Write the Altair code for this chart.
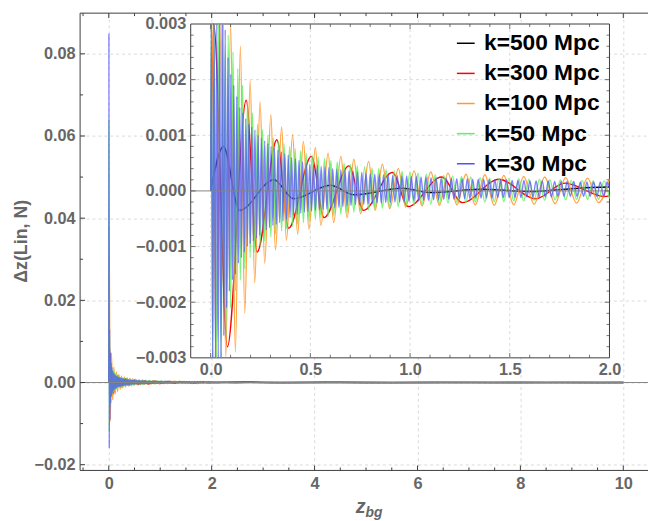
import altair as alt
import pandas as pd

# ---------------- data ----------------
series_names = ["k=500 Mpc", "k=300 Mpc", "k=100 Mpc", "k=50 Mpc", "k=30 Mpc"]
series_colors = ["#000000", "#ff0000", "#ff9a2e", "#5ef05e", "#5050ff"]

black = [(0.0, 0.0), (0.064, 0.0008), (0.144, -0.00035), (0.317, 0.0002), (0.416, -0.00014),
         (0.60, 0.0001), (0.72, -0.00007), (0.96, 0.00005), (1.10, -0.00003), (1.35, 0.00003),
         (1.60, -0.00001), (1.85, 0.00005), (2.0, 0.00007), (3.0, 0.00003), (5.0, -0.00002),
         (7.0, 0.00001), (10.0, 0.0)]

red = [(0.0, 0.0), (0.015, 0.008), (0.084, -0.0028), (0.178, 0.00163), (0.233, -0.0011),
       (0.332, 0.00092), (0.391, -0.00067), (0.505, 0.00062), (0.569, -0.00048), (0.693, 0.00045),
       (0.767, -0.00035), (0.911, 0.00033), (0.990, -0.00028), (1.158, 0.00025), (1.262, -0.00021),
       (1.446, 0.00021), (1.629, -0.00014), (1.777, 0.00014), (1.975, -0.0001), (2.0, -0.00009),
       (2.5, 0.00008), (3.2, -0.00006), (4.2, 0.00005), (5.5, -0.00004), (7.0, 0.00003),
       (8.5, -0.00002), (10.0, 0.0)]

orange = [(0.0, 0.0), (0.006, 0.038), (0.028, -0.0094), (0.052, 0.0072), (0.076, -0.0042),
          (0.100, 0.0037), (0.124, -0.0029), (0.149, 0.0026), (0.171, -0.0022), (0.198, 0.00198),
          (0.221, -0.00165), (0.248, 0.0016), (0.271, -0.0013), (0.302, 0.00137), (0.325, -0.00106),
          (0.356, 0.00115), (0.380, -0.00089), (0.411, 0.00101), (0.436, -0.00078), (0.465, 0.00089),
          (0.493, -0.00069), (0.525, 0.00078), (0.553, -0.00062), (0.589, 0.00068), (0.617, -0.00057),
          (0.653, 0.00062), (0.684, -0.00048), (0.718, 0.00057), (0.752, -0.00041), (0.792, 0.00053),
          (0.825, -0.00035), (0.861, 0.00048), (0.898, -0.00032), (0.941, 0.0004), (0.978, -0.00029),
          (1.020, 0.00036), (1.060, -0.00027), (1.104, 0.00034), (1.147, -0.00026), (1.190, 0.00032),
          (1.235, -0.00025), (1.280, 0.0003), (1.327, -0.00025), (1.375, 0.00029), (1.422, -0.00026),
          (1.470, 0.00028), (1.520, -0.00025), (1.570, 0.00026), (1.622, -0.00024), (1.675, 0.00025),
          (1.727, -0.00023), (1.780, 0.00024), (1.835, -0.00022), (1.890, 0.00023), (1.945, -0.00021),
          (2.000, 0.00022), (2.5, -0.00015), (3.0, 0.0001), (4.0, -0.00008), (5.0, 0.00006),
          (6.0, -0.00005), (7.0, 0.00004), (8.0, -0.00003), (9.0, 0.00003), (10.0, 0.0)]

green = [(0.0, 0.0), (0.003, 0.064), (0.011, -0.012), (0.017, 0.011), (0.028, -0.0055), (0.040, 0.0052),
         (0.052, -0.0034), (0.064, 0.0036), (0.076, -0.0026), (0.088, 0.0028), (0.100, -0.0021),
         (0.112, 0.0025), (0.124, -0.0018), (0.136, 0.0022), (0.149, -0.0016), (0.160, 0.0019),
         (0.171, -0.0014), (0.185, 0.0016), (0.198, -0.0012), (0.210, 0.0014), (0.221, -0.0011),
         (0.235, 0.0012), (0.248, -0.001), (0.260, 0.0011), (0.271, -0.0009), (0.287, 0.001),
         (0.302, -0.00083), (0.314, 0.00095), (0.325, -0.00077), (0.341, 0.0009), (0.356, -0.00072),
         (0.368, 0.00085), (0.380, -0.00068), (0.396, 0.0008), (0.411, -0.00064), (0.424, 0.00076),
         (0.436, -0.0006), (0.451, 0.00072), (0.465, -0.00057), (0.479, 0.00068), (0.493, -0.00054),
         (0.509, 0.00064), (0.525, -0.00051), (0.539, 0.00061), (0.553, -0.00048), (0.571, 0.00058),
         (0.589, -0.00046), (0.603, 0.00055), (0.617, -0.00044), (0.635, 0.00052), (0.653, -0.00042),
         (0.669, 0.0005), (0.684, -0.0004), (0.701, 0.00047), (0.718, -0.00038), (0.735, 0.00045),
         (0.752, -0.00036), (0.772, 0.00043), (0.792, -0.00034), (0.809, 0.00041), (0.825, -0.00032),
         (0.843, 0.0004), (0.861, -0.00031), (0.880, 0.00038), (0.898, -0.0003), (0.920, 0.00036),
         (0.941, -0.00028), (0.960, 0.00035), (0.978, -0.00027), (0.999, 0.00033), (1.020, -0.00026),
         (1.040, 0.00032), (1.060, -0.00025), (1.082, 0.0003), (1.104, -0.00024), (1.126, 0.00029),
         (1.147, -0.00023), (1.169, 0.00028), (1.190, -0.00022), (1.213, 0.00027), (1.235, -0.00021),
         (1.258, 0.00026), (1.280, -0.00021), (1.304, 0.00025), (1.327, -0.0002), (1.351, 0.00024),
         (1.375, -0.0002), (1.399, 0.00023), (1.422, -0.00019), (1.446, 0.00023), (1.470, -0.00019),
         (1.495, 0.00022), (1.520, -0.00018), (1.545, 0.00022), (1.570, -0.00018), (1.596, 0.00021),
         (1.622, -0.00017), (1.649, 0.00021), (1.675, -0.00017), (1.701, 0.0002), (1.727, -0.00016),
         (1.754, 0.0002), (1.780, -0.00016), (1.808, 0.00019), (1.835, -0.00015), (1.863, 0.00019),
         (1.890, -0.00015), (1.918, 0.00018), (1.945, -0.00015), (1.973, 0.00018), (2.0, -0.00014),
         (2.3, 0.0001), (2.8, -0.00008), (3.5, 0.00006), (4.5, -0.00005), (5.5, 0.00004),
         (6.5, -0.00003), (7.5, 0.00003), (8.5, -0.00002), (9.5, 0.00002), (10.0, 0.0)]

blue = [(0.0, 0.0),
        (0.003, 0.085), (0.010, -0.016), (0.017, 0.013), (0.024, -0.009), (0.031, 0.0072), (0.038, -0.005),
        (0.045, 0.0048), (0.052, -0.0034), (0.059, 0.0037), (0.066, -0.0026), (0.073, 0.0029), (0.080, -0.0021),
        (0.087, 0.0024), (0.094, -0.0018),
        (0.101, 0.0021), (0.109, -0.0016), (0.116, 0.0019), (0.124, -0.0015), (0.131, 0.0017), (0.139, -0.0013),
        (0.146, 0.0015), (0.154, -0.0012), (0.161, 0.0014), (0.169, -0.0011), (0.176, 0.0013), (0.184, -0.001),
        (0.191, 0.0012), (0.199, -0.00095),
        (0.206, 0.00115), (0.214, -0.0009), (0.222, 0.0011), (0.230, -0.00085), (0.238, 0.001), (0.246, -0.0008),
        (0.254, 0.00095), (0.263, -0.00075), (0.271, 0.0009), (0.279, -0.0007), (0.287, 0.00085), (0.295, -0.00066),
        (0.303, 0.0008), (0.312, -0.00062), (0.320, 0.00077), (0.329, -0.0006), (0.338, 0.00073), (0.346, -0.00057),
        (0.355, 0.0007), (0.363, -0.00054), (0.372, 0.00067), (0.381, -0.00051), (0.389, 0.00064), (0.398, -0.00048),
        (0.406, 0.0006), (0.415, -0.00044), (0.425, 0.00058), (0.434, -0.00042), (0.443, 0.00055), (0.452, -0.0004),
        (0.461, 0.00052), (0.470, -0.00038), (0.479, 0.0005), (0.488, -0.00037), (0.497, 0.00048),
        (0.506, -0.00036), (0.516, 0.00047), (0.525, -0.00035), (0.535, 0.00046), (0.545, -0.00034), (0.554, 0.00044),
        (0.564, -0.00033), (0.573, 0.00043), (0.583, -0.00032), (0.593, 0.00042),
        (0.602, -0.00031), (0.612, 0.0004), (0.623, -0.0003), (0.633, 0.00039), (0.643, -0.00029), (0.653, 0.00038),
        (0.663, -0.00028), (0.674, 0.00037), (0.684, -0.00027), (0.694, 0.00036),
        (0.704, -0.00026), (0.715, 0.00035), (0.726, -0.00025), (0.736, 0.00034), (0.747, -0.00025), (0.758, 0.00033),
        (0.768, -0.00024), (0.779, 0.00032), (0.790, -0.00023),
        (0.800, 0.00031), (0.811, -0.00023), (0.823, 0.0003), (0.834, -0.00022), (0.845, 0.0003), (0.856, -0.00022),
        (0.867, 0.00029), (0.878, -0.00021), (0.890, 0.00029),
        (0.901, -0.00021), (0.913, 0.00028), (0.924, -0.0002), (0.936, 0.00028), (0.948, -0.0002), (0.959, 0.00027),
        (0.971, -0.00019), (0.983, 0.00027), (0.995, -0.00019),
        (1.006, 0.00026), (1.019, -0.00018), (1.031, 0.00026), (1.043, -0.00018), (1.055, 0.00025), (1.068, -0.00017),
        (1.080, 0.00025), (1.092, -0.00017),
        (1.105, 0.00024), (1.118, -0.00016), (1.130, 0.00024), (1.143, -0.00016), (1.156, 0.00023), (1.169, -0.00015),
        (1.182, 0.00023), (1.194, -0.00015),
        (1.207, 0.00023), (1.220, -0.00015), (1.234, 0.00022), (1.247, -0.00014), (1.260, 0.00022), (1.274, -0.00014),
        (1.287, 0.00022),
        (1.300, -0.00014), (1.314, 0.00021), (1.328, -0.00013), (1.342, 0.00021), (1.356, -0.00013), (1.369, 0.00021),
        (1.383, -0.00013), (1.397, 0.0002),
        (1.411, -0.00013), (1.425, 0.0002), (1.440, -0.00012), (1.454, 0.0002), (1.468, -0.00012), (1.483, 0.0002),
        (1.497, -0.00012),
        (1.512, 0.00019), (1.526, -0.00012), (1.541, 0.00019), (1.556, -0.00012), (1.571, 0.00019), (1.586, -0.00011),
        (1.601, 0.00018), (1.616, -0.00011), (1.632, 0.00018), (1.647, -0.00011), (1.663, 0.00018), (1.678, -0.00011),
        (1.693, 0.00018),
        (1.709, -0.00011), (1.725, 0.00017), (1.741, -0.0001), (1.757, 0.00017), (1.772, -0.0001), (1.788, 0.00017),
        (1.804, -0.0001), (1.821, 0.00017), (1.837, -0.0001), (1.854, 0.00016), (1.870, -0.0001), (1.887, 0.00016),
        (1.903, -0.0001), (1.920, 0.00016), (1.937, -0.0001), (1.954, 0.00016), (1.971, -0.0001), (1.988, 0.00016),
        (2.0, 0.00005), (2.3, -0.00008), (2.8, 0.00008), (3.5, -0.00006), (4.5, 0.00005), (5.5, -0.00004),
        (6.5, 0.00004), (7.5, -0.00003), (8.5, 0.00003), (9.5, -0.00002), (10.0, 0.0)]

# tick values / labels
main_x_ticks = [0, 2, 4, 6, 8, 10]
main_x_minor = [-0.5, 0.5, 1, 1.5, 2.5, 3, 3.5, 4.5, 5, 5.5, 6.5, 7, 7.5, 8.5, 9, 9.5]
main_y_ticks = [-0.02, 0.0, 0.02, 0.04, 0.06, 0.08]
main_y_minor = [-0.01, 0.01, 0.03, 0.05, 0.07]
inset_x_ticks = [0.0, 0.5, 1.0, 1.5, 2.0]
inset_x_minor = [0.1, 0.2, 0.3, 0.4, 0.6, 0.7, 0.8, 0.9, 1.1, 1.2, 1.3, 1.4, 1.6, 1.7, 1.8, 1.9]
inset_y_ticks = [-0.003, -0.002, -0.001, 0.0, 0.001, 0.002, 0.003]
inset_y_minor = [-0.0028, -0.0026, -0.0024, -0.0022, -0.0018, -0.0016, -0.0014, -0.0012,
                 -0.0008, -0.0006, -0.0004, -0.0002, 0.0002, 0.0004, 0.0006, 0.0008,
                 0.0012, 0.0014, 0.0016, 0.0018, 0.0022, 0.0024, 0.0026, 0.0028]

y_title = "Δz(Lin, N)"
x_title_main = "z"
x_title_sub = "bg"

# ---------------- styling ----------------
W, H = 575, 463
FONT = "Liberation Sans"
LABEL = "#666666"
FRAME = "#3c3c3c"
GRID = "#d9d9d9"
LSIZE = 16.5

main_x = alt.Scale(domain=[-0.557, 10.48], nice=False, zero=False)
main_y = alt.Scale(domain=[-0.0214, 0.0899], nice=False, zero=False)
ins_x = alt.Scale(domain=[-0.1, 2.0], range=[112, 536], nice=False, zero=False)
ins_y = alt.Scale(domain=[-0.003, 0.003], range=[349, 11], nice=False, zero=False, clamp=True)
color_scale = alt.Scale(domain=series_names, range=series_colors)

lab = dict(labelFont=FONT, labelFontSize=LSIZE, labelFontWeight="bold", labelColor=LABEL,
           labelFlush=False, labelOverlap=False, title=None, ticks=False, domain=False)

main_x_axis = alt.Axis(values=main_x_ticks, format="d", orient="bottom", grid=True, gridColor=GRID,
                       gridDash=[3, 3], labelPadding=5, **lab)
main_y_axis = alt.Axis(values=main_y_ticks, format=".2f", orient="left", grid=True, gridColor=GRID,
                       gridDash=[3, 3], labelPadding=5, **lab)
ins_x_axis = alt.Axis(values=inset_x_ticks, format=".1f", orient="bottom", offset=-114, grid=False,
                      labelPadding=4, **lab)
ins_y_axis = alt.Axis(values=inset_y_ticks, format=".3f", orient="left", offset=-112, grid=False,
                      labelPadding=5, **lab)

legend = alt.Legend(title=None, orient="none", legendX=379, legendY=19, symbolType="stroke",
                    symbolSize=324, symbolStrokeWidth=1.5, labelFont=FONT, labelFontSize=23,
                    labelFontWeight="bold", labelColor="black", labelOffset=7, rowPadding=6.5,
                    padding=0, symbolOpacity=1)

dfs = [pd.DataFrame(p, columns=["z", "v"]).assign(series=n)
       for n, p in zip(series_names, [black, red, orange, green, blue])]
widths = [1.5, 1.4, 1.4, 1.4, 1.4]
opac = [1.0, 1.0, 0.9, 0.8, 0.72]

dummy = pd.DataFrame({"d": [0]})


def tdf(vals):
    return pd.DataFrame({"t": vals})


# ---------------- main plot ----------------
main_lines = []
for i, df in enumerate(dfs):
    main_lines.append(
        alt.Chart(df).mark_line(strokeWidth=widths[i], opacity=opac[i], interpolate="monotone", clip=True)
        .encode(x=alt.X("z:Q", scale=main_x, axis=main_x_axis if i == 0 else None),
                y=alt.Y("v:Q", scale=main_y, axis=main_y_axis if i == 0 else None),
                color=alt.Color("series:N", scale=color_scale, legend=legend if i == 0 else None))
    )

zero_main = alt.Chart(pd.DataFrame({"v": [0.0]})).mark_rule(color="#858585", strokeWidth=1).encode(
    y=alt.Y("v:Q", scale=main_y, axis=None), x=alt.value(0), x2=alt.value(W))

frame_left = alt.Chart(dummy).mark_rule(color=FRAME, strokeWidth=1).encode(
    x=alt.value(0), y=alt.value(0), y2=alt.value(H))
frame_top = alt.Chart(dummy).mark_rule(color=FRAME, strokeWidth=1).encode(
    y=alt.value(0), x=alt.value(0), x2=alt.value(W))
frame_bottom = alt.Chart(dummy).mark_rule(color=FRAME, strokeWidth=1).encode(
    y=alt.value(H), x=alt.value(0), x2=alt.value(W))


def xticks_main(vals, y0, y1):
    return alt.Chart(tdf(vals)).mark_rule(color=FRAME, strokeWidth=1).encode(
        x=alt.X("t:Q", scale=main_x, axis=None), y=alt.value(y0), y2=alt.value(y1))


def yticks_main(vals, ln):
    return alt.Chart(tdf(vals)).mark_rule(color=FRAME, strokeWidth=1).encode(
        y=alt.Y("t:Q", scale=main_y, axis=None), x=alt.value(0), x2=alt.value(ln))


main_ticks = [
    xticks_main(main_x_ticks, H, H - 5), xticks_main(main_x_minor, H, H - 3),
    xticks_main(main_x_ticks, 0, 5), xticks_main(main_x_minor, 0, 3),
    yticks_main(main_y_ticks, 5), yticks_main(main_y_minor, 3),
]

txt = dict(font=FONT, fontWeight="bold", color=LABEL)
ytitle = alt.Chart(dummy).mark_text(text=y_title, fontSize=18, angle=270, align="center",
                                    baseline="middle", **txt).encode(x=alt.value(-59), y=alt.value(231))
xtitle = alt.Chart(dummy).mark_text(text=x_title_main, fontSize=20, fontStyle="italic", align="right",
                                    baseline="alphabetic", **txt).encode(x=alt.value(289), y=alt.value(506))
xsub = alt.Chart(dummy).mark_text(text=x_title_sub, fontSize=14, fontStyle="italic", align="left",
                                  baseline="alphabetic", **txt).encode(x=alt.value(289), y=alt.value(510))

# ---------------- inset ----------------
inset_bg = alt.Chart(dummy).mark_rect(fill="white", stroke=FRAME, strokeWidth=1).encode(
    x=alt.XDatum(-0.1, scale=ins_x, axis=ins_x_axis),
    x2=alt.X2Datum(2.0),
    y=alt.YDatum(-0.003, scale=ins_y, axis=ins_y_axis),
    y2=alt.Y2Datum(0.003))

grid_x = alt.Chart(tdf([t for t in inset_x_ticks if t < 2.0])).mark_rule(
    color=GRID, strokeWidth=1, strokeDash=[3, 3]).encode(
    x=alt.X("t:Q", scale=ins_x, axis=None),
    y=alt.YDatum(-0.003, scale=ins_y, axis=None), y2=alt.Y2Datum(0.003))
grid_y = alt.Chart(tdf([t for t in inset_y_ticks if t != 0.0 and abs(t) < 0.003])).mark_rule(
    color=GRID, strokeWidth=1, strokeDash=[3, 3]).encode(
    y=alt.Y("t:Q", scale=ins_y, axis=None),
    x=alt.XDatum(-0.1, scale=ins_x, axis=None), x2=alt.X2Datum(2.0))

inset_lines = []
for i, df in enumerate(dfs):
    inset_lines.append(
        alt.Chart(df).transform_filter("datum.z <= 2.0")
        .mark_line(strokeWidth=widths[i], opacity=opac[i], interpolate="monotone")
        .encode(x=alt.X("z:Q", scale=ins_x, axis=None),
                y=alt.Y("v:Q", scale=ins_y, axis=None),
                color=alt.Color("series:N", scale=color_scale, legend=None))
    )

zero_inset = alt.Chart(pd.DataFrame({"v": [0.0]})).mark_rule(color="#858585", strokeWidth=1).encode(
    y=alt.Y("v:Q", scale=ins_y, axis=None),
    x=alt.XDatum(-0.1, scale=ins_x, axis=None), x2=alt.X2Datum(2.0))


def xticks_inset(vals, edge, ln, off):
    return alt.Chart(tdf(vals)).mark_tick(orient="vertical", size=ln, thickness=1, yOffset=off,
                                          color=FRAME).encode(
        x=alt.X("t:Q", scale=ins_x, axis=None), y=alt.YDatum(edge, scale=ins_y, axis=None))


def yticks_inset(vals, edge, ln, off):
    return alt.Chart(tdf(vals)).mark_tick(orient="horizontal", size=ln, thickness=1, xOffset=off,
                                          color=FRAME).encode(
        y=alt.Y("t:Q", scale=ins_y, axis=None), x=alt.XDatum(edge, scale=ins_x, axis=None))


inx_major = [t for t in inset_x_ticks if t < 2.0]
iny_major = [t for t in inset_y_ticks if abs(t) < 0.003]
inset_ticks = [
    xticks_inset(inx_major, -0.003, 5, -2.5), xticks_inset(inset_x_minor, -0.003, 3, -1.5),
    xticks_inset(inx_major, 0.003, 5, 2.5), xticks_inset(inset_x_minor, 0.003, 3, 1.5),
    yticks_inset(iny_major, -0.1, 5, 2.5), yticks_inset(inset_y_minor, -0.1, 3, 1.5),
    yticks_inset(iny_major, 2.0, 5, -2.5), yticks_inset(inset_y_minor, 2.0, 3, -1.5),
]

layers = (main_lines + [zero_main, frame_left, frame_top, frame_bottom] + main_ticks
          + [ytitle, xtitle, xsub, inset_bg, grid_x, grid_y] + inset_lines + [zero_inset] + inset_ticks)

chart = (
    alt.layer(*layers)
    .resolve_scale(x="independent", y="independent")
    .properties(width=W, height=H, padding={"left": 73, "top": 2, "right": 0, "bottom": 48},
                autosize=alt.AutoSizeParams(type="none"))
    .configure_view(stroke=None)
)

chart.save("out.html", embed_options={"renderer": "svg", "actions": False})
